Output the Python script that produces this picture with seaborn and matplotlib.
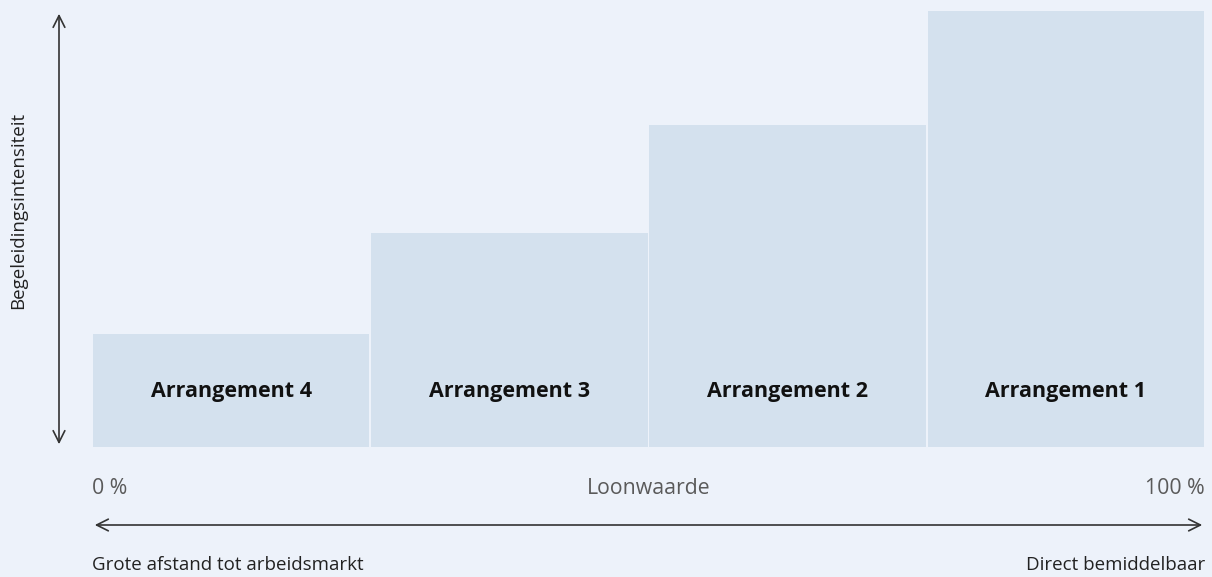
import pandas as pd
import matplotlib.pyplot as plt
import seaborn as sns

# Data
arrangementen = ['Arrangement 4', 'Arrangement 3', 'Arrangement 2', 'Arrangement 1']
begeleiding = [113, 214, 322, 436]
x_links = '0 %'
x_rechts = '100 %'
x_titel = 'Loonwaarde'
onder_links = 'Grote afstand tot arbeidsmarkt'
onder_rechts = 'Direct bemiddelbaar'
y_titel = 'Begeleidingsintensiteit'

df = pd.DataFrame({'arrangement': arrangementen, 'intensiteit': begeleiding})

bg = '#EDF2FA'
bar_kleur = '#D4E1EE'

sns.set_theme(style='white')
plt.rcParams['font.family'] = ['Open Sans', 'DejaVu Sans']

W, H = 1212, 577
fig = plt.figure(figsize=(W / 100, H / 100), dpi=100)
fig.patch.set_facecolor(bg)
ax = fig.add_axes([92 / W, 130 / H, (1205 - 92) / W, (447 - 11) / H])
ax.set_facecolor(bg)

sns.barplot(data=df, x='arrangement', y='intensiteit', order=arrangementen,
            color=bar_kleur, saturation=1, width=0.993, linewidth=0, ax=ax)
ax.set_xlim(-0.5, len(arrangementen) - 0.5)
ax.set_ylim(0, max(begeleiding))
for i, naam in enumerate(arrangementen):
    ax.text(i, 55, naam, ha='center', va='center', fontsize=15.5,
            fontweight='bold', color='#111111')

ax.set_xticks([])
ax.set_yticks([])
ax.set_xlabel('')
ax.set_ylabel('')
sns.despine(ax=ax, left=True, bottom=True)

# Pijlen
pijl = dict(arrowstyle='<->,head_length=0.7,head_width=0.35', color='#333333', lw=1.2)
plt.annotate('', xy=(59 / W, 1 - 11 / H), xytext=(59 / W, 1 - 447 / H),
             xycoords='figure fraction', textcoords='figure fraction', arrowprops=pijl)
plt.annotate('', xy=(1205 / W, 1 - 525 / H), xytext=(92 / W, 1 - 525 / H),
             xycoords='figure fraction', textcoords='figure fraction', arrowprops=pijl)

# Teksten
grijs = '#5a5a5a'
fs = 13.5
fs_grijs = 15.3
fig.text(92 / W, 1 - 489 / H, x_links, ha='left', va='center', fontsize=fs_grijs, color=grijs)
fig.text(649 / W, 1 - 489 / H, x_titel, ha='center', va='center', fontsize=fs_grijs, color=grijs)
fig.text(1205 / W, 1 - 489 / H, x_rechts, ha='right', va='center', fontsize=fs_grijs, color=grijs)
fig.text(92 / W, 1 - 565 / H, onder_links, ha='left', va='center', fontsize=fs, color='#222222')
fig.text(1205 / W, 1 - 565 / H, onder_rechts, ha='right', va='center', fontsize=fs, color='#222222')
fig.text(18 / W, 1 - 210 / H, y_titel, ha='center', va='center', rotation=90,
         fontsize=fs, color='#222222')

fig.savefig('out.png', dpi=100, facecolor=bg)
